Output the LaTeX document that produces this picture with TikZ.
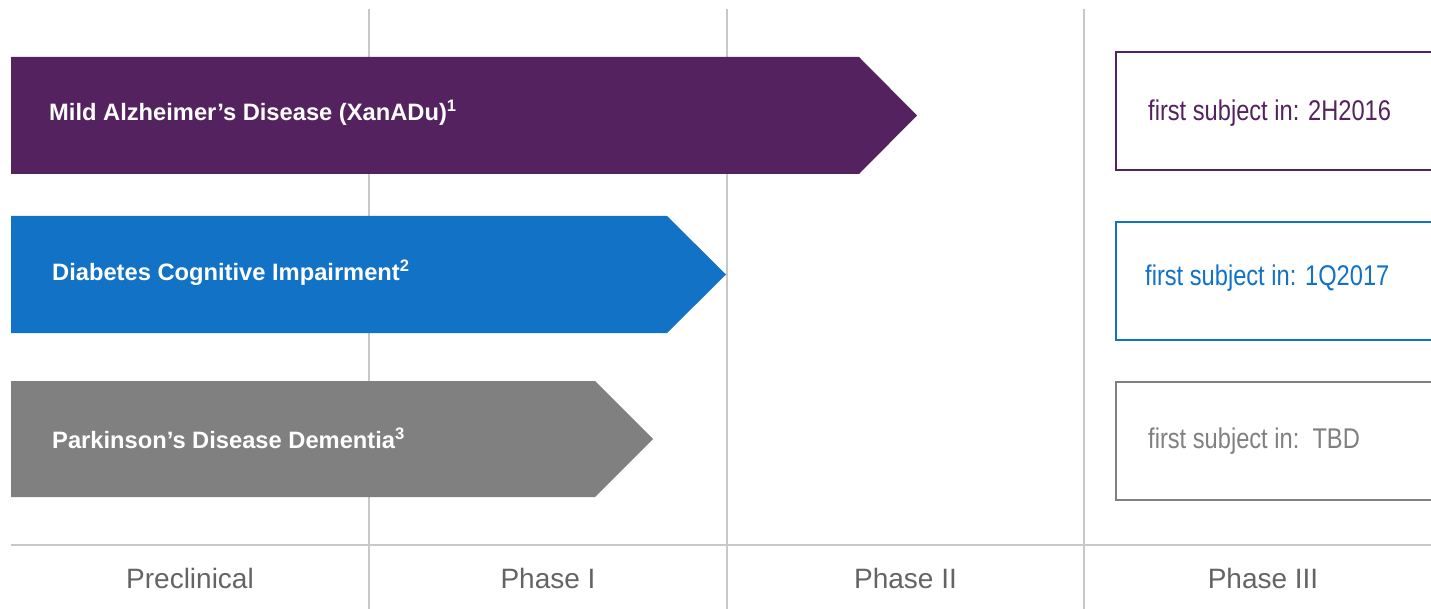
\documentclass[tikz,border=0pt]{standalone}
\usepackage{fontspec}
\setmainfont{Liberation Sans}
\newfontfamily\narrowfont[FakeStretch=0.83]{Liberation Sans}
\definecolor{plum}{RGB}{84,35,95}
\definecolor{azure}{RGB}{17,114,198}
\definecolor{slate}{RGB}{128,128,128}
\definecolor{rule}{RGB}{200,200,200}
\definecolor{axistext}{RGB}{100,100,100}
\tikzset{
  gridline/.style={draw=rule, line width=2.5pt},
  bartext/.style={anchor=west, text=white, font=\fontsize{23.7}{28}\selectfont\bfseries, inner sep=0pt},
  datebox/.style={draw=#1, line width=2pt, fill=white, anchor=north west, minimum width=340pt, minimum height=118pt, inner sep=0pt},
  datetext/.style={anchor=west, text=#1, font=\fontsize{28.5}{32}\narrowfont, inner sep=0pt},
  phaselabel/.style={text=axistext, font=\fontsize{28}{32}\selectfont, inner sep=0pt}
}
\begin{document}
\begin{tikzpicture}[x=1pt, y=-1pt]
  \useasboundingbox (0,0) rectangle (1431,609);
  \clip (0,0) rectangle (1431,609);
  % phase separators and axis
  \coordinate (s1t) at (369,9);  \coordinate (s1b) at (369,609);
  \coordinate (s2t) at (727,9);  \coordinate (s2b) at (727,609);
  \coordinate (s3t) at (1084,9); \coordinate (s3b) at (1084,609);
  \coordinate (axl) at (11,545); \coordinate (axr) at (1431,545);
  \draw[gridline] (s1t) -- (s1b);
  \draw[gridline] (s2t) -- (s2b);
  \draw[gridline] (s3t) -- (s3b);
  \draw[gridline] (axl) -- (axr);
  % progress arrows
  \fill[plum] (11,57) -- (859,57) -- (917,115.5) -- (859,174) -- (11,174) -- cycle;
  \fill[azure] (11,216) -- (667,216) -- (726,274.5) -- (667,333) -- (11,333) -- cycle;
  \fill[slate] (11,381) -- (595,381) -- (653,439) -- (595,497) -- (11,497) -- cycle;
  \node[bartext] (t1) at (49,113) {Mild Alzheimer’s Disease (XanADu)\textsuperscript{1}};
  \node[bartext] (t2) at (52,273) {Diabetes Cognitive Impairment\textsuperscript{2}};
  \node[bartext] (t3) at (52,438) {Parkinson’s Disease Dementia\textsuperscript{3}};
  % milestone boxes
  \node[datebox=plum] (b1) at (1115,51) {};
  \node[datebox=azure] (b2) at (1115,221) {};
  \node[datebox=slate] (b3) at (1115,381) {};
  \node[datetext=plum] (d1) at (1148,113) {first subject in: 2H2016};
  \node[datetext=azure] (d2) at (1145,278) {first subject in: 1Q2017};
  \node[datetext=slate] (d3) at (1148,441) {first subject in:\ \ TBD};
  % phase labels
  \node[phaselabel] (p0) at (190,578) {Preclinical};
  \node[phaselabel] (p1) at (548,578) {Phase I};
  \node[phaselabel] (p2) at (905.5,578) {Phase II};
  \node[phaselabel] (p3) at (1263,578) {Phase III};
\end{tikzpicture}
\end{document}
